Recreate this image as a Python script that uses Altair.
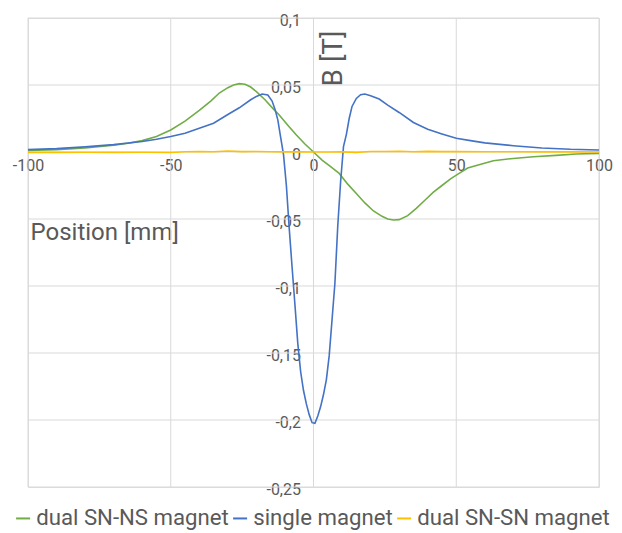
import altair as alt
import pandas as pd

# ---- data ----
green_x = [-100, -90, -80, -70, -65, -60, -55, -50, -45, -40, -36, -33, -30, -28, -26, -24, -22, -20,
           -17, -14, -12, -9, -6, -3, 0, 3, 6, 9, 12, 15, 18, 21, 24, 26, 28, 30, 33, 36, 39, 42, 45,
           48, 51, 54, 58, 63, 70, 77, 85, 92, 100]
green_y = [0.0012, 0.0018, 0.003, 0.005, 0.0065, 0.0085, 0.0115, 0.0164, 0.023, 0.031, 0.038, 0.044,
           0.048, 0.050, 0.051, 0.0505, 0.0485, 0.045, 0.039, 0.032, 0.0276, 0.020, 0.0127, 0.006, 0.0,
           -0.006, -0.011, -0.016, -0.024, -0.031, -0.038, -0.044, -0.048, -0.050, -0.0507, -0.0505,
           -0.0475, -0.042, -0.036, -0.030, -0.025, -0.020, -0.016, -0.012, -0.0095, -0.0065, -0.0048,
           -0.0035, -0.0025, -0.0015, -0.001]

blue_x = [-100, -90, -80, -70, -60, -55, -50, -45, -40, -35, -30, -26, -22, -20, -18, -16, -14.5,
          -13.5, -12.5, -11.5, -10.5, -9.5, -8.5, -7.5, -6.5, -5.5, -4.5, -3.5, -2.5, -1.5, -0.5, 0.5,
          1.5, 2.5, 3.5, 4.5, 5.5, 6.5, 7.5, 8.5, 9.5, 10.5, 11.5, 12.5, 13.5, 15, 16.5, 18, 20, 23,
          26, 30, 35, 40, 45, 50, 55, 60, 70, 80, 90, 100]
blue_y = [0.0018, 0.0025, 0.0038, 0.0055, 0.0078, 0.0095, 0.0115, 0.014, 0.0178, 0.0215, 0.028,
          0.033, 0.039, 0.0415, 0.0433, 0.0425, 0.038, 0.032, 0.024, 0.011, -0.002, -0.025, -0.057,
          -0.086, -0.114, -0.143, -0.164, -0.178, -0.188, -0.196, -0.202, -0.2025, -0.197, -0.190,
          -0.181, -0.170, -0.152, -0.125, -0.098, -0.055, -0.022, 0.004, 0.013, 0.025, 0.034, 0.040,
          0.0428, 0.0433, 0.042, 0.0395, 0.035, 0.0295, 0.022, 0.017, 0.0135, 0.0102, 0.0085, 0.0068,
          0.0047, 0.003, 0.002, 0.0015]

yellow_x = [-100, -90, -80, -70, -60, -50, -45, -40, -35, -30, -25, -20, -15, -10, -5, 0, 5, 10,
            15, 20, 25, 30, 35, 40, 45, 50, 60, 70, 80, 90, 100]
yellow_y = [-0.0003, -0.0003, -0.0002, -0.0003, -0.0002, -0.0004, 0.0002, 0.0003, 0.0002, 0.0008,
            0.0003, 0.0004, 0.0002, 0.0001, 0.0001, 0.0, 0.0, 0.0001, -0.0003, 0.0004, 0.0004,
            0.0006, 0.0002, 0.0005, 0.0003, 0.0003, 0.0002, 0.0002, 0.0001, 0.0001, 0.0]

series_names = ["dual SN-NS magnet", "single magnet", "dual SN-SN magnet"]
series_colors = ["#70ad47", "#4472c4", "#ffc000"]

x_ticks = [-100, -50, 0, 50, 100]
y_ticks = [-0.25, -0.2, -0.15, -0.1, -0.05, 0, 0.05, 0.1]

rows = []
for name, xs, ys in zip(series_names, [green_x, blue_x, yellow_x], [green_y, blue_y, yellow_y]):
    for xv, yv in zip(xs, ys):
        rows.append({"series": name, "pos": xv, "B": yv})
df = pd.DataFrame(rows)

FONT = "Roboto"
TXT = "#595959"
W, H = 571, 469

xscale = alt.Scale(domain=[-100, 100], nice=False, zero=False)
yscale = alt.Scale(domain=[-0.25, 0.1], nice=False, zero=False)

x_axis = alt.Axis(
    orient="bottom", offset=-335, values=x_ticks, grid=False, ticks=False, domain=False,
    labelFont=FONT, labelFontSize=16, labelColor=TXT, labelPadding=5, labelFlush=False,
    labelExpr="toString(datum.value)",
    title="Position [mm]", titleFont=FONT, titleFontSize=24, titleFontWeight="normal",
    titleColor=TXT, titleX=2, titleY=80, titleAlign="left", titleBaseline="middle",
)
y_axis = alt.Axis(
    orient="left", offset=-285.5, values=y_ticks, grid=False, ticks=False, domain=False,
    labelFont=FONT, labelFontSize=16, labelColor=TXT, labelPadding=13, labelFlush=False,
    labelOffset=2,
    labelExpr="replace(toString(datum.value), '.', ',')",
    title="B [T]", titleFont=FONT, titleFontSize=28, titleFontWeight="normal",
    titleColor=TXT, titleAngle=270, titleX=20, titleY=40, titleAlign="center",
    titleBaseline="middle",
)

vgrid = alt.Chart(pd.DataFrame({"t": x_ticks})).mark_rule(color="#d9d9d9", strokeWidth=1).encode(
    x=alt.X("t:Q", scale=xscale, axis=x_axis)
)
hgrid = alt.Chart(pd.DataFrame({"t": y_ticks})).mark_rule(color="#d9d9d9", strokeWidth=1).encode(
    y=alt.Y("t:Q", scale=yscale, axis=y_axis)
)

lines = alt.Chart(df).mark_line(strokeWidth=1.6).encode(
    x=alt.X("pos:Q", scale=xscale, axis=x_axis),
    y=alt.Y("B:Q", scale=yscale, axis=y_axis),
    color=alt.Color(
        "series:N",
        scale=alt.Scale(domain=series_names, range=series_colors),
        sort=series_names,
        legend=alt.Legend(
            title=None, orient="none", legendX=-16, legendY=489, direction="horizontal",
            symbolType="stroke", symbolSize=196, symbolStrokeWidth=2,
            labelFont=FONT, labelFontSize=22.2, labelColor=TXT, labelOffset=2,
            columnPadding=0, labelLimit=400, padding=0,
        ),
    ),
)

chart = alt.layer(vgrid, hgrid, lines).properties(
    width=W, height=H,
    padding={"left": 28, "top": 18, "right": 23, "bottom": 46},
    autosize=alt.AutoSizeParams(type="none"),
).configure_view(stroke=None).configure(background="white")

chart.save("out.html", embed_options={"renderer": "svg", "actions": False})
